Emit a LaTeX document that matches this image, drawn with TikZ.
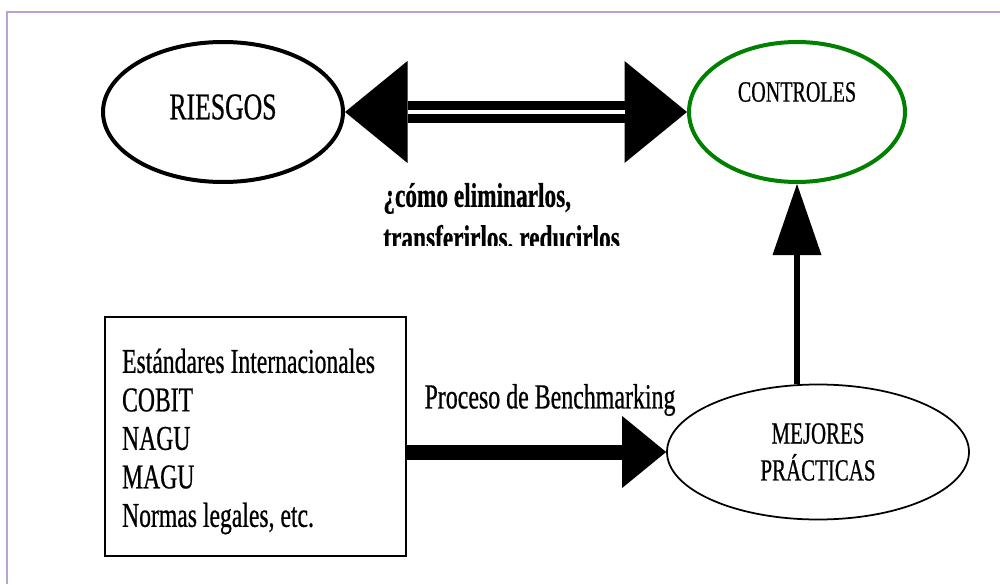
\documentclass[tikz,border=0pt]{standalone}
\usepackage{fontspec}
\setmainfont[FakeStretch=0.68, FakeBold=0.6]{Liberation Serif}
\usetikzlibrary{shapes.geometric,arrows.meta,calc}
\definecolor{ctrlgreen}{RGB}{0,128,0}
\definecolor{framepurple}{RGB}{184,164,212}
\tikzset{
	oval/.style={ellipse, draw, line width=0.08cm, minimum width=4.8cm, minimum height=2.8cm},
	txt/.style={font=\fontsize{17.5}{21}\selectfont, inner sep=0pt},
}

\begin{document}
\begin{tikzpicture}
	\useasboundingbox (0,0) rectangle (20,11.68);
	\draw[framepurple, line width=0.04cm] (0.15,0) -- (0.15,11.44) -- (20,11.44);
	\node[oval] (riesgos) at (4.46,9.44) {};
	\node[txt, font=\fontsize{21.5}{24}\selectfont] (riesgostxt) at (4.46,9.54) {RIESGOS};
	\node[oval, ctrlgreen, minimum width=4.32cm] (controles) at (15.94,9.44) {};
	\node[txt, font=\fontsize{16.8}{20}\selectfont] (controlestxt) at (15.94,9.84) {CONTROLES};
	\node[ellipse, draw, line width=0.035cm, minimum width=6.04cm, minimum height=2.7cm, txt, align=center] (mejores) at (16.36,2.64) {MEJORES\\PRÁCTICAS};
	\node[draw, line width=0.05cm, minimum width=6.02cm, minimum height=4.78cm] (normas) at (5.11,2.95) {};
	\node[txt, anchor=west, align=flush left, font=\fontsize{19.8}{21.9}\selectfont] (normastxt) at ([xshift=0.36cm, yshift=-0.1cm]normas.west)
		{Estándares Internacionales\\COBIT\\NAGU\\MAGU\\Normas legales, etc.};
	\draw[line width=0.44cm, {Triangle[length=1.25cm, width=2.04cm, line width=0pt]}-{Triangle[length=1.25cm, width=2.04cm, line width=0pt]}] (riesgos) -- (controles);
	\draw[white, line width=0.07cm, shorten <=1.25cm, shorten >=1.25cm] (riesgos) -- (controles);
	\draw[line width=0.12cm, -{Triangle[length=1.42cm, width=0.98cm, line width=0pt]}] (mejores.north -| controles.south) -- (controles.south);
	\draw[line width=0.3cm, -{Triangle[length=0.88cm, width=1.44cm, line width=0pt]}] (normas.east |- mejores.west) -- (mejores.west);
	\node[txt, font=\fontsize{20}{24}\selectfont] (bench) at (11.0,3.68) {Proceso de Benchmarking};
	\begin{scope}
		\clip (7.4,6.78) rectangle (12.8,8.08);
		\node[txt, anchor=base west, align=left, font=\bfseries\fontsize{19.5}{24}\selectfont] (como) at (7.66,6.70)
			{¿cómo eliminarlos,\\transferirlos, reducirlos};
	\end{scope}
\end{tikzpicture}
\end{document}
